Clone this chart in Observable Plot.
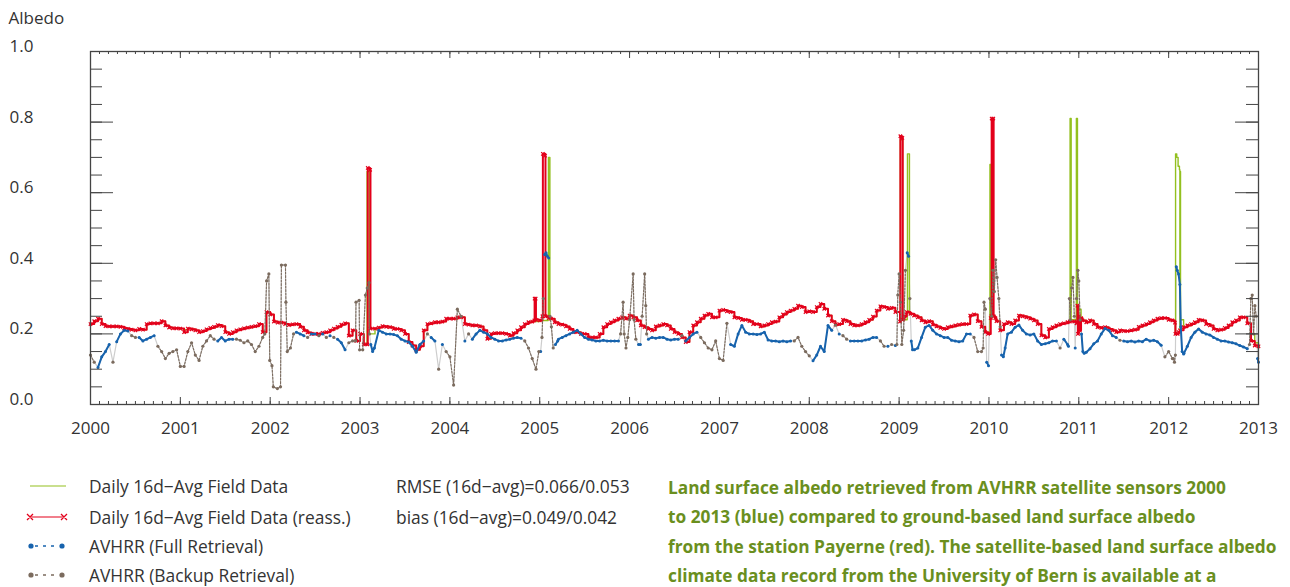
<!DOCTYPE html>
<html><head><meta charset="utf-8">
<script src="https://cdn.jsdelivr.net/npm/d3@7"></script>
<script src="https://cdn.jsdelivr.net/npm/@observablehq/plot@0.6"></script>
<style>
body{margin:0;background:#fff;font-family:"Open Sans",sans-serif;}
#wrap{position:relative;width:1290px;height:587px;overflow:hidden;background:#fff;}
.lg{position:absolute;left:0;height:26px;width:660px;}
.lg svg{position:absolute;left:0;top:0;}
.lg .t{position:absolute;left:89px;top:0;line-height:26px;font-size:17.4px;color:#333;white-space:nowrap;}
.lg .s{position:absolute;left:396px;top:0;line-height:26px;font-size:17.4px;color:#333;white-space:nowrap;}
#cap{position:absolute;left:668px;top:473px;font-size:17.3px;font-weight:700;line-height:29.3px;color:#6a8f1e;white-space:nowrap;}
</style></head><body>
<div id="wrap">
<div id="chart"></div>
<div id="legend"></div>
<div id="cap"></div>
</div>
<script>
// ---------------- data ----------------
const years = [2000,2001,2002,2003,2004,2005,2006,2007,2008,2009,2010,2011,2012,2013];
const yTicks = [0, 0.2, 0.4, 0.6, 0.8, 1.0];
const gridStart = 2000;        // first grid sample (decimal year)
const gridPerYear = 24;        // half-monthly samples

// Daily 16d-Avg Field Data (reassessed) - red
const fieldReass = [
0.228,0.236,0.243,0.228,0.222,0.221,0.221,0.221,0.22,0.216,0.214,0.212,0.21,0.214,0.212,0.228,0.23,0.23,0.23,0.236,0.224,0.218,0.216,0.216,
0.215,0.205,0.215,0.213,0.21,0.205,0.208,0.213,0.217,0.22,0.225,0.222,0.205,0.2,0.205,0.21,0.213,0.216,0.218,0.22,0.222,0.228,0.205,0.262,
0.255,0.235,0.232,0.232,0.228,0.225,0.227,0.228,0.22,0.21,0.204,0.2,0.2,0.2,0.203,0.205,0.21,0.215,0.22,0.226,0.23,0.195,0.21,0.18,
0.2,0.17,null,null,0.215,0.218,0.222,0.22,0.219,0.214,0.214,0.21,0.2,0.177,0.167,0.155,0.165,0.21,0.228,0.23,0.233,0.233,0.235,0.243,
0.243,0.243,0.247,0.247,0.228,0.226,0.224,0.224,0.221,0.21,0.186,0.2,0.202,0.202,0.202,0.2,0.195,0.202,0.21,0.219,0.228,0.233,0.235,null,
0.238,null,null,0.243,0.233,0.228,0.226,0.221,0.214,0.205,0.205,0.2,0.2,0.19,0.19,0.19,0.2,0.219,0.228,0.233,0.238,0.243,0.247,0.243,
0.252,0.247,0.238,0.224,0.219,0.214,0.21,0.221,0.224,0.228,0.224,0.214,0.205,0.2,0.19,0.177,0.205,0.224,0.233,0.243,0.252,0.257,0.247,0.247,
0.266,0.268,0.264,0.262,0.247,0.245,0.24,0.24,0.236,0.228,0.228,0.221,0.224,0.228,0.233,0.235,0.247,0.255,0.262,0.266,0.271,0.28,0.276,0.262,
0.264,0.262,0.276,0.285,0.271,0.252,0.236,0.226,0.228,0.24,0.236,0.228,0.224,0.224,0.228,0.233,0.24,0.249,0.266,0.278,0.276,0.271,0.274,0.262,
null,null,null,0.257,0.252,0.247,0.238,0.233,0.236,0.226,0.221,0.217,0.214,0.219,0.221,0.224,0.226,0.228,0.228,0.252,0.255,0.236,0.22,0.205,
null,null,0.236,0.21,0.228,0.233,0.228,0.238,0.252,0.25,0.247,0.243,0.238,0.228,0.196,0.19,0.214,0.219,0.224,0.228,0.23,0.233,null,null,
0.25,0.238,0.233,0.238,0.228,0.219,0.217,0.219,0.214,0.21,0.205,0.21,0.208,0.208,0.21,0.212,0.22,0.224,0.228,0.233,0.238,0.243,0.245,0.245,
0.24,0.238,null,0.21,0.219,0.224,0.228,0.233,0.24,0.238,0.228,0.224,0.214,0.21,0.212,0.217,0.224,0.233,0.238,0.247,0.247,0.23,0.18,0.167,
0.165];
// short events (snow peaks etc.) of the red series: [decimal year, albedo]
const fieldReassEvents = [
[2003.082,0.17],[2003.086,0.67],[2003.112,0.665],[2003.116,0.215],
[2004.94,0.238],[2004.943,0.3],[2004.955,0.3],[2004.958,0.24],
[2005.03,0.25],[2005.035,0.71],[2005.06,0.705],[2005.064,0.25],[2005.1,0.245],
[2009.01,0.235],[2009.014,0.76],[2009.036,0.755],[2009.04,0.24],[2009.06,0.25],[2009.085,0.262],
[2009.99,0.2],[2010.02,0.245],[2010.027,0.25],[2010.03,0.81],[2010.048,0.81],[2010.052,0.25],[2010.07,0.245],
[2010.9,0.235],[2010.95,0.235],[2010.975,0.23],[2010.985,0.28],[2010.99,0.2],[2011.01,0.21],[2011.025,0.245],
[2012.07,0.232],[2012.075,0.2],[2012.1,0.2],[2012.11,0.205]];

// Daily 16d-Avg Field Data - green (coincides with red outside the peaks)
const fieldDaily = [
0.228,0.236,0.243,0.228,0.222,0.221,0.221,0.221,0.22,0.216,0.214,0.212,0.21,0.214,0.212,0.228,0.23,0.23,0.23,0.236,0.224,0.218,0.216,0.216,
0.215,0.212,0.215,0.213,0.21,0.205,0.208,0.213,0.217,0.22,0.225,0.222,0.205,0.2,0.205,0.21,0.213,0.216,0.218,0.22,0.222,0.228,0.205,0.262,
0.255,0.235,0.232,0.232,0.228,0.225,0.227,0.228,0.22,0.21,0.204,0.2,0.2,0.2,0.203,0.205,0.21,0.215,0.22,0.226,0.23,0.195,0.21,0.18,
0.2,0.17,null,null,0.215,0.218,0.222,0.22,0.219,0.214,0.214,0.21,0.2,0.177,0.167,0.155,0.165,0.21,0.228,0.23,0.233,0.233,0.235,0.243,
0.243,0.243,0.247,0.247,0.228,0.226,0.224,0.224,0.221,0.21,0.186,0.2,0.202,0.202,0.202,0.2,0.195,0.202,0.21,0.219,0.228,0.233,0.235,null,
0.238,null,null,0.243,0.233,0.228,0.226,0.221,0.214,0.205,0.205,0.2,0.2,0.19,0.19,0.19,0.2,0.219,0.228,0.233,0.238,0.243,0.247,0.243,
0.252,0.247,0.238,0.224,0.219,0.214,0.21,0.221,0.224,0.228,0.224,0.214,0.205,0.2,0.19,0.177,0.205,0.224,0.233,0.243,0.252,0.257,0.247,0.247,
0.266,0.268,0.264,0.262,0.247,0.245,0.24,0.24,0.236,0.228,0.228,0.221,0.224,0.228,0.233,0.235,0.247,0.255,0.262,0.266,0.271,0.28,0.276,0.262,
0.264,0.262,0.276,0.285,0.271,0.252,0.236,0.226,0.228,0.24,0.236,0.228,0.224,0.224,0.228,0.233,0.24,0.249,0.266,0.278,0.276,0.271,0.274,0.262,
null,null,null,0.257,0.252,0.247,0.238,0.233,0.236,0.226,0.221,0.217,0.214,0.219,0.221,0.224,0.226,0.228,0.228,0.252,0.255,0.236,0.22,0.205,
null,null,0.236,0.21,0.228,0.233,0.228,0.238,0.252,0.25,0.247,0.243,0.238,0.228,0.196,0.19,0.214,0.219,0.224,0.228,0.23,0.233,null,null,
0.25,0.238,0.233,0.238,0.228,0.219,0.217,0.219,0.214,0.21,0.205,0.21,0.208,0.208,0.21,0.212,0.22,0.224,0.228,0.233,0.238,0.243,0.245,0.245,
0.24,0.238,null,0.21,0.219,0.224,0.228,0.233,0.24,0.238,0.228,0.224,0.214,0.21,0.212,0.217,0.224,0.233,0.238,0.247,0.247,0.23,0.2,0.175,
0.16];
const fieldDailyEvents = [
[2003.076,0.17],[2003.078,0.66],[2003.1,0.66],[2003.104,0.2],
[2005.094,0.25],[2005.097,0.7],[2005.11,0.7],[2005.113,0.246],
[2009.01,0.235],[2009.014,0.75],[2009.036,0.75],[2009.04,0.24],[2009.09,0.26],[2009.093,0.71],[2009.112,0.71],[2009.115,0.26],
[2010.008,0.2],[2010.011,0.68],[2010.024,0.68],[2010.027,0.25],[2010.07,0.245],
[2010.9,0.235],[2010.903,0.81],[2010.912,0.81],[2010.915,0.24],[2010.97,0.24],[2010.973,0.81],[2010.982,0.81],[2010.985,0.275],[2011.0,0.27],[2011.025,0.245],
[2012.074,0.2],[2012.077,0.71],[2012.09,0.7],[2012.105,0.675],[2012.12,0.665],[2012.128,0.66],[2012.132,0.24]];

// AVHRR albedo, half-monthly samples; flag F = full retrieval, B = backup retrieval
const avhrr = [
0.14,0.12,0.105,0.135,0.15,0.17,0.12,0.178,0.2,0.21,0.208,0.195,0.19,0.19,0.18,0.185,0.19,0.195,0.165,0.15,0.13,0.145,0.15,0.155,
0.108,0.108,0.15,0.175,0.14,0.125,0.165,0.18,0.195,0.185,0.18,0.19,0.18,0.185,0.185,0.185,0.182,0.175,0.18,0.17,0.15,0.165,0.19,null,
null,null,null,null,null,null,null,0.205,0.2,0.195,0.19,0.2,0.2,0.195,0.2,0.19,0.195,0.19,0.185,0.175,0.155,0.175,0.18,null,
null,null,null,null,null,0.21,0.205,0.2,0.2,0.198,0.195,0.185,0.18,0.177,0.165,0.148,0.17,0.18,0.2,0.19,0.18,0.1,0.17,0.15,
0.135,0.055,0.27,0.25,0.18,0.2,0.185,0.2,0.21,0.205,0.2,0.19,0.185,0.18,0.18,0.183,0.185,0.188,0.19,0.188,0.18,0.16,0.13,0.1,
null,null,null,null,null,0.185,0.19,0.195,0.2,0.205,0.21,0.2,0.19,0.185,0.183,0.18,0.18,0.182,0.18,0.18,0.18,null,null,null,
null,null,null,null,null,null,0.19,0.188,0.19,0.19,0.185,0.183,0.185,0.185,0.195,0.18,0.19,0.2,0.205,0.19,0.175,0.16,0.155,0.18,
0.13,0.125,0.23,0.17,0.165,0.2,0.224,0.205,0.2,0.2,0.198,0.2,0.205,0.183,0.18,0.18,0.178,0.18,0.178,0.18,0.18,0.19,0.165,0.15,
0.138,0.124,0.14,0.165,0.15,0.224,0.21,0.225,0.2,0.195,0.185,0.18,0.18,0.18,0.18,0.183,0.185,0.19,0.19,0.18,0.165,0.165,0.17,0.167,
null,null,null,null,null,0.16,0.19,0.219,0.224,0.21,0.2,0.195,0.19,0.19,0.182,0.18,0.178,0.18,0.2,0.2,0.19,0.15,0.15,null,
null,null,null,null,null,0.2,0.205,0.219,0.225,0.21,0.2,0.197,0.2,0.18,0.17,0.172,0.175,0.18,0.18,0.16,0.185,0.17,null,null,
null,null,0.148,0.158,0.172,0.18,0.2,0.215,0.21,0.195,0.19,0.182,0.18,0.178,0.18,0.177,0.18,0.178,0.185,0.18,0.182,0.178,0.168,0.135,
0.15,0.13,null,null,0.143,0.165,0.19,0.205,0.214,0.205,0.2,0.197,0.19,0.185,0.18,0.18,0.177,0.175,0.172,0.167,0.163,0.158,null,null,
null];
const avhrrFlags = [
"BBFFFFBFFFFBBFFFFFBBBBBB",
"BBBBBBBBBBFFFFFBBBBBBBB.",
".......FFFBFFBFBFBFFFBB.",
".....FFFFFFFFFFFFFBFFBFB",
"BBBBFBFFFFFFFFFFFFFFBBBB",
".....FFFFFFFFFFFFFFFF...",
"......FFFFFFFFBFFFFBBBBB",
"BBBFFFFFFFFFFFFFFFFFBBBB",
"BFFFFFFBFBBFFFFFFFFBBFBF",
".....FFFFFFFFFFFFFFFBBB.",
".....FFFFFFFFFFFFFFBFF..",
"..FFFFFFFFFBFFFFFFFFFFFB",
"BB..FFFFFFFFFFFFFFFFFF..."].join("");
// short events of the AVHRR series: [decimal year, albedo, flag]
const avhrrEvents = [
[2001.94,0.2,"B"],[2001.96,0.35,"B"],[2001.985,0.37,"B"],[2001.995,0.125,"B"],[2002.02,0.11,"B"],[2002.035,0.05,"B"],[2002.08,0.045,"B"],[2002.115,0.05,"B"],[2002.125,0.395,"B"],[2002.17,0.395,"B"],[2002.175,0.29,"B"],[2002.19,0.15,"B"],[2002.225,0.16,"B"],[2002.26,0.2,"B"],
[2002.95,0.18,"B"],[2002.955,0.29,"B"],[2002.99,0.295,"B"],[2002.995,0.155,"B"],[2003.03,0.155,"B"],[2003.06,0.31,"B"],[2003.08,0.33,"B"],[2003.1,0.345,"B"],[2003.105,0.2,"B"],[2003.12,0.17,"F"],[2003.14,0.15,"F"],[2003.16,0.16,"F"],
[2004.99,0.15,"B"],[2005.01,0.15,"F"],[2005.025,0.19,"B"],[2005.04,0.3,"B"],[2005.055,0.425,"F"],[2005.07,0.43,"F"],[2005.085,0.42,"F"],[2005.1,0.415,"F"],[2005.115,0.25,"B"],[2005.13,0.22,"B"],[2005.15,0.16,"B"],[2005.175,0.17,"F"],[2005.2,0.18,"F"],
[2005.876,0.18,"F"],[2005.9,0.2,"B"],[2005.928,0.29,"B"],[2005.94,0.2,"B"],[2005.96,0.16,"B"],[2005.98,0.19,"B"],[2006.0,0.24,"B"],[2006.04,0.37,"B"],[2006.05,0.24,"B"],[2006.07,0.185,"B"],[2006.1,0.17,"F"],[2006.12,0.17,"F"],[2006.14,0.25,"B"],[2006.168,0.37,"B"],[2006.18,0.28,"B"],[2006.19,0.2,"B"],[2006.21,0.185,"F"],
[2008.975,0.17,"B"],[2008.985,0.31,"B"],[2009.0,0.37,"B"],[2009.015,0.29,"B"],[2009.03,0.17,"B"],[2009.05,0.21,"B"],[2009.07,0.38,"B"],[2009.09,0.43,"F"],[2009.105,0.42,"F"],[2009.12,0.3,"B"],[2009.135,0.18,"F"],[2009.15,0.155,"F"],[2009.17,0.155,"F"],
[2009.935,0.16,"B"],[2009.945,0.29,"B"],[2009.96,0.27,"B"],[2009.975,0.12,"F"],[2009.995,0.11,"F"],[2010.01,0.3,"B"],[2010.03,0.25,"B"],[2010.045,0.38,"B"],[2010.06,0.32,"B"],[2010.075,0.41,"B"],[2010.09,0.36,"B"],[2010.11,0.3,"B"],[2010.125,0.22,"B"],[2010.14,0.14,"F"],[2010.16,0.135,"F"],[2010.18,0.16,"F"],
[2010.885,0.165,"F"],[2010.895,0.3,"B"],[2010.905,0.24,"B"],[2010.92,0.33,"B"],[2010.935,0.36,"B"],[2010.95,0.25,"B"],[2010.96,0.16,"F"],[2010.975,0.3,"B"],[2010.99,0.38,"B"],[2011.0,0.35,"B"],[2011.015,0.24,"B"],[2011.03,0.2,"F"],[2011.045,0.15,"F"],[2011.06,0.145,"F"],
[2012.05,0.13,"B"],[2012.065,0.12,"B"],[2012.075,0.14,"B"],[2012.085,0.39,"F"],[2012.095,0.38,"F"],[2012.11,0.37,"F"],[2012.125,0.34,"F"],[2012.135,0.22,"F"],[2012.15,0.15,"F"],[2012.17,0.145,"F"],
[2012.9,0.17,"B"],[2012.915,0.3,"B"],[2012.93,0.31,"B"],[2012.945,0.2,"B"],[2012.96,0.28,"B"],[2012.975,0.25,"B"],[2012.99,0.13,"F"],[2013.0,0.12,"F"]];

const legendItems = ["Daily 16d\u2212Avg Field Data", "Daily 16d\u2212Avg Field Data (reass.)", "AVHRR (Full Retrieval)", "AVHRR (Backup Retrieval)"];
const statsText = ["RMSE (16d\u2212avg)=0.066/0.053", "bias (16d\u2212avg)=0.049/0.042"];
const captionLines = [
"Land surface albedo retrieved from AVHRR satellite sensors 2000",
"to 2013 (blue) compared to ground-based land surface albedo",
"from the station Payerne (red). The satellite-based land surface albedo",
"climate data record from the University of Bern is available at a"];

// ---------------- styling ----------------
const cRed = "#e3001b", cGreen = "#93c01f", cBlue = "#1763ad", cBrown = "#7b6b5e", cGrey = "#cdcdcd", cAxis = "#444";

// ---------------- tables ----------------
const gridT = i => gridStart + i / gridPerYear;
function series(values, events) {
  const rows = values.map((v, i) => ({t: gridT(i), v})).filter(d => d.v != null);
  for (const [t, v] of events) rows.push({t, v});
  return rows.sort((a, b) => a.t - b.t);
}
const redRows = series(fieldReass, fieldReassEvents);
const greenRows = series(fieldDaily, fieldDailyEvents);
const avRows = avhrr.map((v, i) => ({t: gridT(i), v, f: avhrrFlags[i] === "B" ? "B" : "F"})).filter(d => d.v != null);
for (const [t, v, f] of avhrrEvents) avRows.push({t, v, f});
avRows.sort((a, b) => a.t - b.t);

const W = 1290, H = 450, mL = 90, mR = 32, mT = 51, mB = 46;
const innerW = W - mL - mR, innerH = H - mT - mB;
const xMinor = d3.range(0, (years.length - 1) * 10 + 1).map(i => years[0] + i / 10);
const yMinor = d3.range(0, 21).map(i => i * 0.05);

const chart = Plot.plot({
  width: W, height: H,
  marginLeft: mL, marginRight: mR, marginTop: mT, marginBottom: mB,
  x: {domain: [years[0], years[years.length - 1]]},
  y: {domain: [0, 1]},
  style: {fontFamily: "'Open Sans', sans-serif", fontSize: "17px", color: "#333", background: "white"},
  marks: [
    Plot.axisX({ticks: years, tickSize: 0, tickPadding: 17, tickFormat: d => String(d), fontSize: 17, label: null}),
    Plot.axisY({ticks: yTicks, tickSize: 0, tickPadding: 57, tickFormat: d3.format(".1f"), dy: -5, fontSize: 17, label: null}),
    Plot.line(avRows, {x: "t", y: "v", stroke: cGrey, strokeWidth: 1.2}),
    Plot.line(greenRows, {x: "t", y: "v", stroke: cGreen, strokeWidth: 1.4, curve: "step-after"}),
    Plot.line(redRows, {x: "t", y: "v", stroke: cRed, strokeWidth: 2, curve: "step-after"}),
    Plot.dot(redRows, {x: "t", y: "v", symbol: "times", r: 1.7, stroke: cRed, strokeWidth: 1.2}),
    Plot.line(avRows, {x: "t", y: d => d.f === "F" ? d.v : NaN, stroke: cBlue, strokeWidth: 2}),
    Plot.dot(avRows.filter(d => d.f === "F"), {x: "t", y: "v", r: 1.5, fill: cBlue}),
    Plot.line(avRows, {x: "t", y: d => d.f === "B" ? d.v : NaN, stroke: cBrown, strokeWidth: 1.1, strokeDasharray: "2,1.5"}),
    Plot.dot(avRows.filter(d => d.f === "B"), {x: "t", y: "v", r: 1.6, fill: cBrown}),
    Plot.frame({stroke: cAxis, strokeWidth: 1.3}),
    // inward ticks: bottom & top
    Plot.tickX(xMinor, {x: d => d, insetTop: innerH - 3, stroke: cAxis}),
    Plot.tickX(years, {x: d => d, insetTop: innerH - 7, stroke: cAxis}),
    Plot.tickX(xMinor, {x: d => d, insetBottom: innerH - 3, stroke: cAxis}),
    Plot.tickX(years, {x: d => d, insetBottom: innerH - 7, stroke: cAxis}),
    // inward ticks: left & right
    Plot.tickY(yMinor, {y: d => d, insetRight: innerW - 12, stroke: cAxis}),
    Plot.tickY(yTicks, {y: d => d, insetRight: innerW - 23, stroke: cAxis}),
    Plot.tickY(yMinor, {y: d => d, insetLeft: innerW - 12, stroke: cAxis}),
    Plot.tickY(yTicks, {y: d => d, insetLeft: innerW - 23, stroke: cAxis}),
    Plot.text(["Albedo"], {frameAnchor: "top-left", dx: -82, dy: -40, textAnchor: "start", fontSize: 17, fill: "#333"})
  ]
});
document.getElementById("chart").appendChild(chart);

// ---------------- legend ----------------
const legendTops = [473, 504, 533, 562];
const swatches = [
  `<line x1="30" x2="66" y1="13" y2="13" stroke="${cGreen}" stroke-width="1.2"/>`,
  `<line x1="30" x2="64" y1="13" y2="13" stroke="${cRed}" stroke-width="1.2"/>` +
  `<path d="M27,10L33,16M27,16L33,10M61,10L67,16M61,16L67,10" stroke="${cRed}" stroke-width="1.3"/>`,
  `<line x1="35" x2="59" y1="13" y2="13" stroke="${cBlue}" stroke-width="1.3" stroke-dasharray="3,5"/>` +
  `<circle cx="31" cy="13" r="2.6" fill="${cBlue}"/><circle cx="62" cy="13" r="2.6" fill="${cBlue}"/>`,
  `<line x1="35" x2="59" y1="13" y2="13" stroke="${cBrown}" stroke-width="1.3" stroke-dasharray="3,5"/>` +
  `<circle cx="31" cy="13" r="2.6" fill="${cBrown}"/><circle cx="62" cy="13" r="2.6" fill="${cBrown}"/>`
];
const leg = document.getElementById("legend");
legendItems.forEach((name, i) => {
  const row = document.createElement("div");
  row.className = "lg";
  row.style.top = legendTops[i] + "px";
  row.innerHTML = `<svg width="80" height="26">${swatches[i]}</svg><span class="t"></span>` + (statsText[i] ? `<span class="s"></span>` : "");
  row.querySelector(".t").textContent = name;
  if (statsText[i]) row.querySelector(".s").textContent = statsText[i];
  leg.appendChild(row);
});
const cap = document.getElementById("cap");
captionLines.forEach(line => { const d = document.createElement("div"); d.textContent = line; cap.appendChild(d); });
</script>
</body></html>
